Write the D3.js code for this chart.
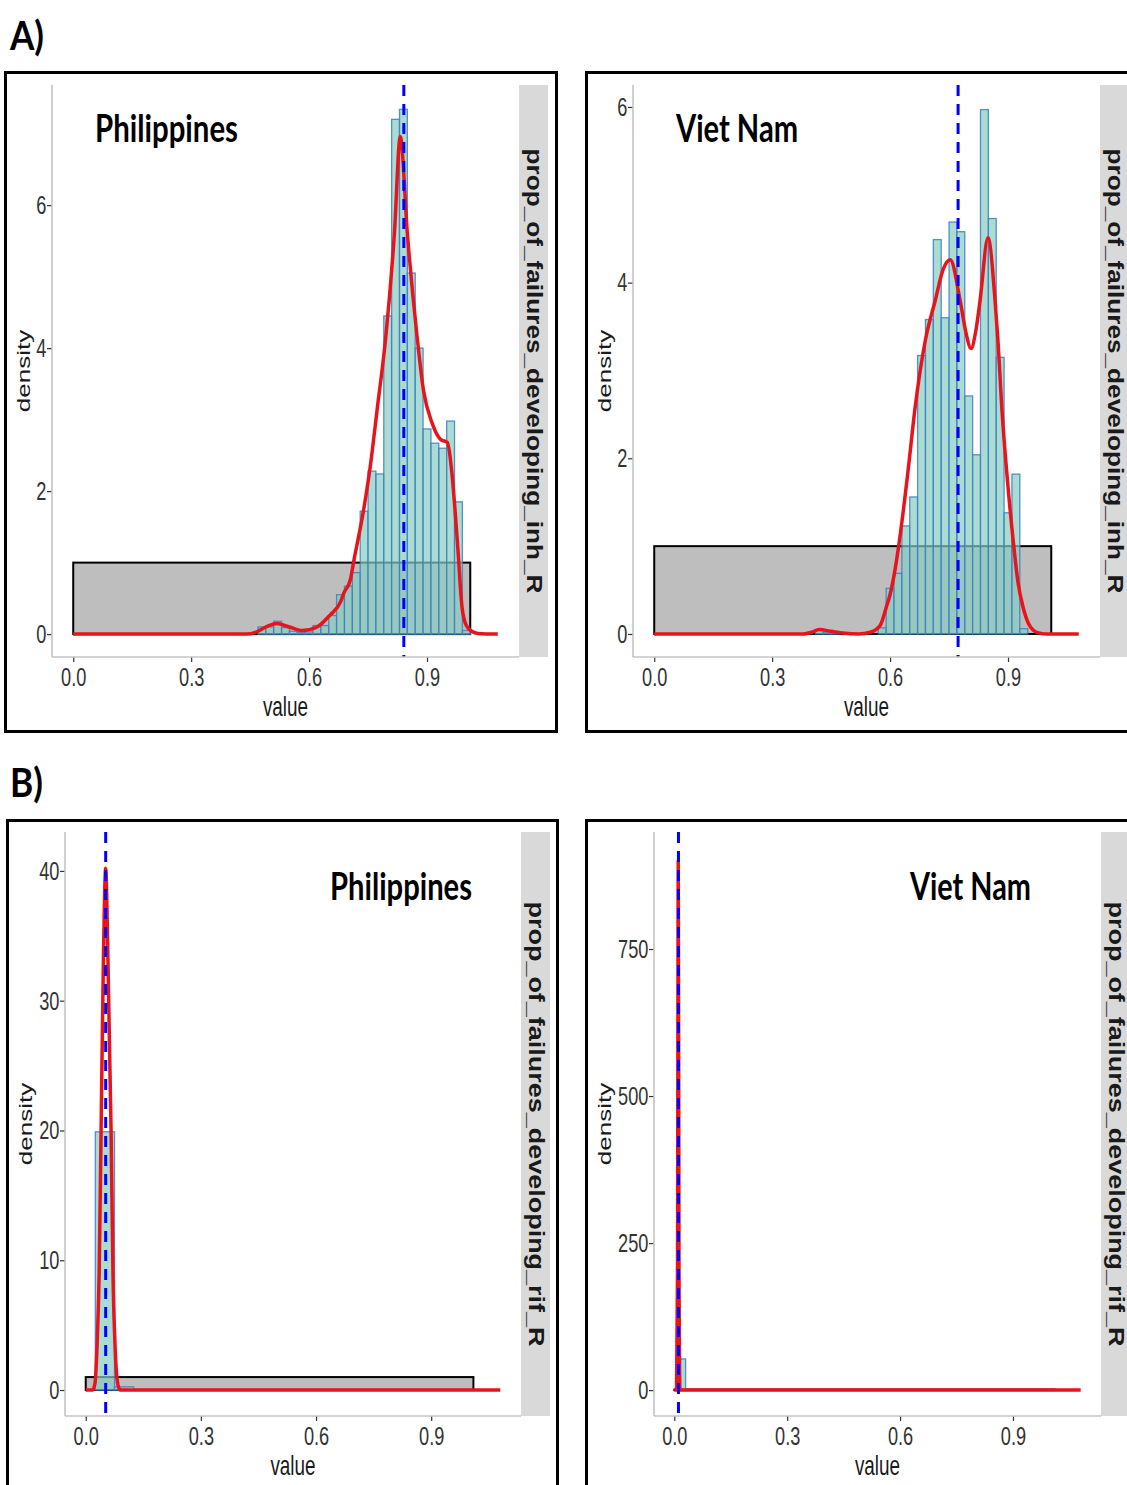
<!DOCTYPE html>
<html>
<head>
<meta charset="utf-8">
<script src="https://cdn.jsdelivr.net/npm/d3@7"></script>
<style>
  body { margin: 0; background: #fff; }
  svg { display: block; }
  .tick text { font-family: "Liberation Sans", Arial, sans-serif; fill: #333; }
</style>
</head>
<body>
<div class="chart"></div>
<script>
// ---- data ----
var panelTitles = ["Philippines", "Viet Nam", "Philippines", "Viet Nam"];
var stripLabels = ["prop_of_failures_developing_inh_R", "prop_of_failures_developing_rif_R"];

// A) inh, histogram bins (left edge, density), binwidth 0.02
var phInhBinLeft = [0.47, 0.49, 0.51, 0.53, 0.55, 0.57, 0.59, 0.61, 0.63, 0.65, 0.67, 0.69, 0.71, 0.73, 0.75, 0.77, 0.79, 0.81, 0.83, 0.85, 0.87, 0.89, 0.91, 0.93, 0.95, 0.97, 0.99];
var phInhBinHeight = [0.10, 0.10, 0.18, 0.09, 0.04, 0.02, 0.03, 0.12, 0.12, 0.26, 0.55, 0.67, 0.86, 1.72, 2.28, 2.24, 4.45, 7.20, 7.34, 5.05, 4.00, 2.87, 2.67, 2.60, 2.98, 1.85, 0.05];
var vnInhBinLeft = [0.41, 0.43, 0.45, 0.57, 0.59, 0.61, 0.63, 0.65, 0.67, 0.69, 0.71, 0.73, 0.75, 0.77, 0.79, 0.81, 0.83, 0.85, 0.87, 0.89, 0.91, 0.93];
var vnInhBinHeight = [0.05, 0.02, 0.03, 0.07, 0.52, 0.69, 1.23, 1.56, 3.17, 3.58, 4.49, 3.60, 4.69, 4.58, 2.71, 2.04, 5.97, 4.73, 3.15, 1.38, 1.82, 0.06];

// B) rif, binwidth 0.05 (Philippines) and 0.02 (Viet Nam)
var phRifBinLeft = [0.025, 0.075];
var phRifBinHeight = [19.9, 0.25];
var vnRifBinLeft = [0.01];
var vnRifBinHeight = [53];
var binWidths = [0.02, 0.02, 0.05, 0.02];

// density curves (x, density)
var phInhDensX = [0, 0.44, 0.47, 0.49, 0.518, 0.55, 0.582, 0.62, 0.654, 0.68, 0.688, 0.705, 0.713, 0.74, 0.755, 0.774, 0.795, 0.817, 0.832, 0.85, 0.874, 0.891, 0.913, 0.935, 0.952, 0.962, 0.977, 0.989, 1.0, 1.014, 1.03, 1.08];
var phInhDensY = [0, 0, 0.04, 0.10, 0.15, 0.10, 0.05, 0.10, 0.27, 0.45, 0.57, 0.76, 1.00, 1.78, 2.32, 3.18, 4.15, 5.60, 6.96, 5.60, 4.20, 3.41, 2.95, 2.72, 2.68, 2.32, 1.31, 0.38, 0.12, 0.04, 0.01, 0];
var vnInhDensX = [0, 0.38, 0.40, 0.42, 0.45, 0.48, 0.52, 0.55, 0.575, 0.59, 0.60, 0.611, 0.624, 0.645, 0.664, 0.69, 0.715, 0.735, 0.753, 0.778, 0.793, 0.806, 0.818, 0.829, 0.849, 0.867, 0.875, 0.884, 0.897, 0.913, 0.925, 0.938, 0.952, 0.965, 0.98, 1.0, 1.08];
var vnInhDensY = [0, 0, 0.02, 0.05, 0.03, 0.01, 0, 0.02, 0.10, 0.30, 0.45, 0.69, 1.07, 1.83, 2.59, 3.35, 3.80, 4.15, 4.26, 3.80, 3.43, 3.25, 3.45, 3.80, 4.51, 3.80, 3.30, 2.59, 1.83, 1.07, 0.60, 0.31, 0.12, 0.04, 0.01, 0, 0];
var phRifDensX = [0, 0.018, 0.024, 0.03, 0.035, 0.04, 0.046, 0.052, 0.058, 0.066, 0.071, 0.077, 0.084, 0.09, 1.08];
var phRifDensY = [0, 0, 0.5, 3.8, 9, 20, 33, 40.2, 33, 20, 9, 3, 0.4, 0, 0];
var vnRifDensX = [0, 0.006, 0.0085, 0.0105, 0.0125, 0.015, 1.08];
var vnRifDensY = [0, 0, 200, 900, 200, 0, 0];

// prior (uniform) rectangle and dashed reference lines
var priorRange = [0, 1.01];
var priorHeight = 1;
var vlineValues = [0.841, 0.773, 0.052, 0.011];

// axes
var xDomain = [-0.054, 1.134];
var xTicks = [0, 0.3, 0.6, 0.9];
var yDomains = [[-0.32, 7.68], [-0.262, 6.25], [-2.0, 43.0], [-44, 949]];
var yTicks = [[0, 2, 4, 6], [0, 2, 4, 6], [0, 10, 20, 30, 40], [0, 250, 500, 750]];

// ---- layout ----
var svg = d3.select(".chart").append("svg")
  .attr("width", 1127)
  .attr("height", 1485);

var boxes = [
  {left: 52, right: 519, top: 85, bottom: 657, frame: [5.5, 72.5, 551, 659], title: [95, 142, 143], ylab: 22},
  {left: 633, right: 1100, top: 85, bottom: 657, frame: [586.5, 72.5, 600, 659], title: [676, 142, 122], ylab: 603},
  {left: 65, right: 521, top: 832, bottom: 1416, frame: [7.5, 820.5, 550, 700], title: [330, 900, 142], ylab: 24},
  {left: 654, right: 1101, top: 832, bottom: 1416, frame: [586.5, 820.5, 600, 700], title: [910, 900, 121], ylab: 603}
];

var panels = [
  {binLeft: phInhBinLeft, binH: phInhBinHeight, dx: phInhDensX, dy: phInhDensY, strip: stripLabels[0]},
  {binLeft: vnInhBinLeft, binH: vnInhBinHeight, dx: vnInhDensX, dy: vnInhDensY, strip: stripLabels[0]},
  {binLeft: phRifBinLeft, binH: phRifBinHeight, dx: phRifDensX, dy: phRifDensY, strip: stripLabels[1]},
  {binLeft: vnRifBinLeft, binH: vnRifBinHeight, dx: vnRifDensX, dy: vnRifDensY, strip: stripLabels[1]}
];

// the picture is squeezed sideways, so text is too
var squeeze = 0.7;

// panel letters
svg.append("text")
  .attr("transform", "translate(10,50)")
  .attr("font-family", "Lato, 'Open Sans', sans-serif")
  .attr("font-weight", "bold")
  .attr("font-size", 40)
  .attr("textLength", 34).attr("lengthAdjust", "spacingAndGlyphs")
  .text("A)");
svg.append("text")
  .attr("transform", "translate(10,797)")
  .attr("font-family", "Lato, 'Open Sans', sans-serif")
  .attr("font-weight", "bold")
  .attr("font-size", 40)
  .attr("textLength", 33).attr("lengthAdjust", "spacingAndGlyphs")
  .text("B)");

panels.forEach(function(p, i) {
  var b = boxes[i];
  var g = svg.append("g");

  // outer frame
  g.append("rect")
    .attr("x", b.frame[0]).attr("y", b.frame[1])
    .attr("width", b.frame[2]).attr("height", b.frame[3])
    .attr("fill", "none").attr("stroke", "#000").attr("stroke-width", 3);

  var x = d3.scaleLinear().domain(xDomain).range([b.left, b.right]);
  var y = d3.scaleLinear().domain(yDomains[i]).range([b.bottom, b.top]);

  // clip to the panel
  var clipId = "clip" + i;
  g.append("clipPath").attr("id", clipId)
    .append("rect")
    .attr("x", b.left).attr("y", b.top)
    .attr("width", b.right - b.left).attr("height", b.bottom - b.top);
  var plot = g.append("g").attr("clip-path", "url(#" + clipId + ")");

  // uniform prior box
  plot.append("rect")
    .attr("x", x(priorRange[0]))
    .attr("y", y(priorHeight))
    .attr("width", x(priorRange[1]) - x(priorRange[0]))
    .attr("height", y(0) - y(priorHeight))
    .attr("fill", "#bebebe")
    .attr("stroke", "#000")
    .attr("stroke-width", 2);

  // histogram
  var bw = binWidths[i];
  plot.selectAll("rect.bar")
    .data(p.binLeft.map(function(d, j) { return {x0: d, h: p.binH[j]}; }))
    .enter().append("rect")
    .attr("class", "bar")
    .attr("x", function(d) { return x(d.x0); })
    .attr("y", function(d) { return y(d.h); })
    .attr("width", function(d) { return x(d.x0 + bw) - x(d.x0); })
    .attr("height", function(d) { return y(0) - y(d.h); })
    .attr("fill", "#86cdc2")
    .attr("fill-opacity", 0.7)
    .attr("stroke", "#3d7fc1")
    .attr("stroke-opacity", 0.85)
    .attr("stroke-width", 1.3);

  // density curve
  var line = d3.line()
    .x(function(d) { return x(d[0]); })
    .y(function(d) { return y(d[1]); })
    .curve(d3.curveMonotoneX);
  plot.append("path")
    .datum(p.dx.map(function(d, j) { return [d, p.dy[j]]; }))
    .attr("d", line)
    .attr("fill", "none")
    .attr("stroke", "#e8141c")
    .attr("stroke-width", 3.5)
    .attr("stroke-linejoin", "round");

  // dashed reference line
  plot.append("line")
    .attr("x1", x(vlineValues[i])).attr("x2", x(vlineValues[i]))
    .attr("y1", b.top).attr("y2", b.bottom)
    .attr("stroke", "#0000ff")
    .attr("stroke-width", 3)
    .attr("stroke-dasharray", "11,8");

  // axes
  var xAxis = g.append("g")
    .attr("transform", "translate(0," + b.bottom + ")")
    .call(d3.axisBottom(x).tickValues(xTicks).tickFormat(d3.format(".1f")).tickSize(5).tickPadding(6));
  var yAxis = g.append("g")
    .attr("transform", "translate(" + b.left + ",0)")
    .call(d3.axisLeft(y).tickValues(yTicks[i]).tickFormat(d3.format("d")).tickSize(5).tickPadding(3));

  [xAxis, yAxis].forEach(function(ax) {
    ax.select(".domain").remove();
    ax.selectAll(".tick line").attr("stroke", "#333").attr("stroke-width", 1.2);
    ax.selectAll(".tick text")
      .attr("font-size", 26)
      .attr("transform", "scale(" + squeeze + ",1)");
  });

  // gray axis lines
  g.append("line")
    .attr("x1", b.left).attr("x2", b.left)
    .attr("y1", b.top).attr("y2", b.bottom)
    .attr("stroke", "#c4c4c4").attr("stroke-width", 1.6);
  g.append("line")
    .attr("x1", b.left).attr("x2", b.right)
    .attr("y1", b.bottom).attr("y2", b.bottom)
    .attr("stroke", "#c4c4c4").attr("stroke-width", 1.6);

  // axis titles
  g.append("text")
    .attr("transform", "translate(" + (b.left + b.right) / 2 + "," + (b.bottom + 59) + ") scale(" + squeeze + ",1)")
    .attr("text-anchor", "middle")
    .attr("font-family", "'Liberation Sans', Arial, sans-serif")
    .attr("font-size", 27)
    .attr("fill", "#1a1a1a")
    .text("value");
  g.append("text")
    .attr("transform", "translate(" + (b.ylab + 8) + "," + (b.top + b.bottom) / 2 + ") rotate(-90) scale(1," + squeeze + ")")
    .attr("text-anchor", "middle")
    .attr("font-family", "'Liberation Sans', Arial, sans-serif")
    .attr("font-size", 26)
    .attr("fill", "#1a1a1a")
    .text("density");

  // facet strip
  g.append("rect")
    .attr("x", b.right).attr("y", b.top)
    .attr("width", 29).attr("height", b.bottom - b.top)
    .attr("fill", "#d9d9d9");
  g.append("text")
    .attr("transform", "translate(" + (b.right + 8) + "," + (b.top + b.bottom) / 2 + ") rotate(90) scale(1,0.85)")
    .attr("text-anchor", "middle")
    .attr("font-family", "'Liberation Sans', Arial, sans-serif")
    .attr("font-weight", "bold")
    .attr("font-size", 25)
    .attr("fill", "#1a1a1a")
    .attr("textLength", 445).attr("lengthAdjust", "spacingAndGlyphs")
    .text(p.strip);

  // country title
  g.append("text")
    .attr("x", b.title[0]).attr("y", b.title[1])
    .attr("font-family", "Lato, 'Open Sans', sans-serif")
    .attr("font-weight", "bold")
    .attr("font-size", 38)
    .attr("fill", "#000")
    .attr("textLength", b.title[2]).attr("lengthAdjust", "spacingAndGlyphs")
    .text(panelTitles[i]);
});
</script>
</body>
</html>
